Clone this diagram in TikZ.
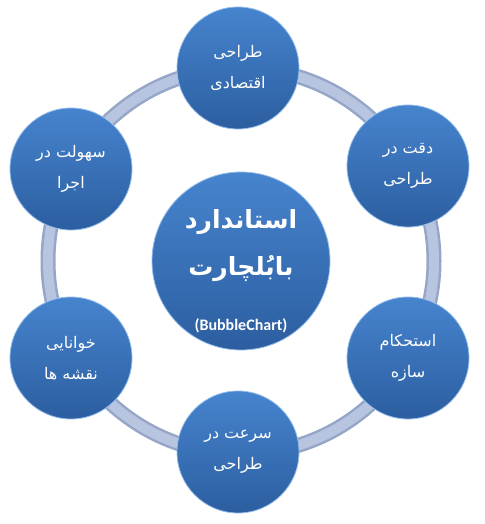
\documentclass[tikz,border=0pt]{standalone}
\usepackage{fontspec}
\setmainfont{Carlito}
\newfontfamily\fafont[Script=Arabic]{DejaVu Sans}
\TeXXeTstate=1
\newcommand{\fatext}[1]{\beginR#1\endR}
\definecolor{bubbletop}{RGB}{70,132,206}
\definecolor{bubblebot}{RGB}{44,94,160}
\definecolor{bubblerim}{RGB}{150,190,235}
\definecolor{ringedge}{RGB}{150,166,198}
\definecolor{ringfill}{RGB}{184,197,224}
\tikzset{
  bubble/.style={circle, minimum size=122pt, inner sep=0pt, align=center,
    top color=bubbletop, bottom color=bubblebot, draw=bubblerim, line width=0.8pt,
    text=white, font=\fafont\fontsize{16}{31}\selectfont},
  hubble/.style={bubble, minimum size=178pt},
  hubtext/.style={align=center, inner sep=0pt, text=white, font=\fafont\bfseries\fontsize{25}{47}\selectfont},
  ringline/.style={line width=15pt, ringedge},
  ringcore/.style={line width=10pt, ringfill}
}
\begin{document}
\begin{tikzpicture}[x=1pt,y=-1pt]
    \useasboundingbox (0,0) rectangle (484,524);
    \coordinate (mid) at (241,261);

    % ring behind the bubbles
    \draw[ringline] (mid) circle (193);
    \draw[ringcore] (mid) circle (193);

    \node[hubble] (hub) at (mid) {};
    \node[hubtext] (title) at ([yshift=-10pt]hub.center) {\fatext{استاندارد}\\\fatext{بابُلچارت}\\[8pt]{\normalfont\bfseries\fontsize{16}{18}\selectfont (BubbleChart)}};

    \node[bubble] (econ) at (238,68) {\fatext{طراحی}\\\fatext{اقتصادی}};
    \node[bubble] (prec) at (408,166) {\fatext{دقت در}\\\fatext{طراحی}};
    \node[bubble] (firm) at (408,358) {\fatext{استحکام}\\\fatext{سازه}};
    \node[bubble] (fast) at (238,452) {\fatext{سرعت در}\\\fatext{طراحی}};
    \node[bubble] (read) at (71,358) {\fatext{خوانایی}\\\fatext{نقشه ها}};
    \node[bubble] (easy) at (71,169) {\fatext{سهولت در}\\\fatext{اجرا}};
\end{tikzpicture}
\end{document}
